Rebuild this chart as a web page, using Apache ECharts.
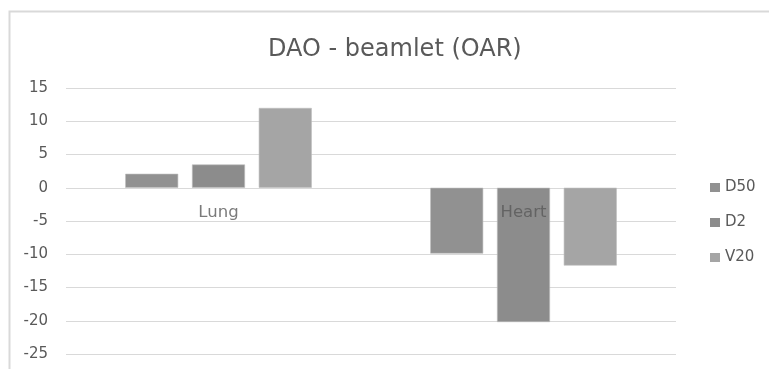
<!DOCTYPE html>
<html>
<head>
<meta charset="utf-8">
<script src="https://cdn.jsdelivr.net/npm/echarts@6/dist/echarts.min.js"></script>
<style>
html,body{margin:0;padding:0;background:#fff;}
#chart{width:769px;height:369px;}
</style>
</head>
<body>
<div id="chart"></div>
<script>
const titleText = 'DAO - beamlet (OAR)';
const categories = ['Lung', 'Heart'];
const seriesNames = ['D50', 'D2', 'V20'];
const d50 = [2.1, -9.9];
const d2 = [3.5, -20.2];
const v20 = [12, -11.7];
const yTicks = { min: -25, max: 15, interval: 5 };

const colors = ['#919191', '#8c8c8c', '#a5a5a5'];
const values = [d50, d2, v20];
const FONT = 'DejaVu Sans';
const TXT = '#595959';

const chart = echarts.init(document.getElementById('chart'), null, { renderer: 'canvas' });
chart.setOption({
  animation: false,
  backgroundColor: '#fff',
  graphic: [{
    type: 'rect', left: 7, top: 9, z: 0,
    shape: { width: 800, height: 400 },
    style: { fill: 'none', stroke: '#d9d9d9', lineWidth: 2 }
  }],
  title: {
    text: titleText,
    left: 263, top: 33,
    textStyle: { fontFamily: FONT, fontSize: 24, fontWeight: 'normal', color: TXT }
  },
  legend: {
    orient: 'vertical',
    left: 710, top: 180,
    padding: 0,
    itemWidth: 10, itemHeight: 9, itemGap: 20,
    icon: 'rect',
    itemStyle: { borderWidth: 0 },
    data: seriesNames,
    textStyle: { fontFamily: FONT, fontSize: 15, color: TXT }
  },
  grid: { left: 66, right: 93, top: 88, bottom: 15, containLabel: false, outerBoundsMode: 'none' },
  xAxis: {
    type: 'category',
    data: categories,
    axisLine: { show: false },
    axisTick: { show: false },
    axisLabel: { show: false },
    splitLine: { show: false }
  },
  yAxis: {
    type: 'value',
    min: yTicks.min, max: yTicks.max, interval: yTicks.interval,
    axisLine: { show: false },
    axisTick: { show: false },
    axisLabel: { margin: 18, fontFamily: FONT, fontSize: 15, color: TXT },
    splitLine: { lineStyle: { color: '#d9d9d9', width: 1 } }
  },
  series: seriesNames.map((n, i) => ({
    name: n,
    type: 'bar',
    data: values[i],
    barWidth: 53,
    barGap: '26%',
    itemStyle: { color: colors[i], borderColor: '#bdbdbd', borderWidth: 0.6 }
  })).concat([{
    name: 'categoryLabels',
    type: 'scatter',
    data: categories.map(c => [c, 0]),
    symbolSize: 0,
    z: 10,
    silent: true,
    label: {
      show: true,
      position: 'bottom',
      distance: 16,
      formatter: p => p.value[0],
      fontFamily: FONT, fontSize: 16.5, color: TXT
    }
  }])
});
</script>
</body>
</html>
